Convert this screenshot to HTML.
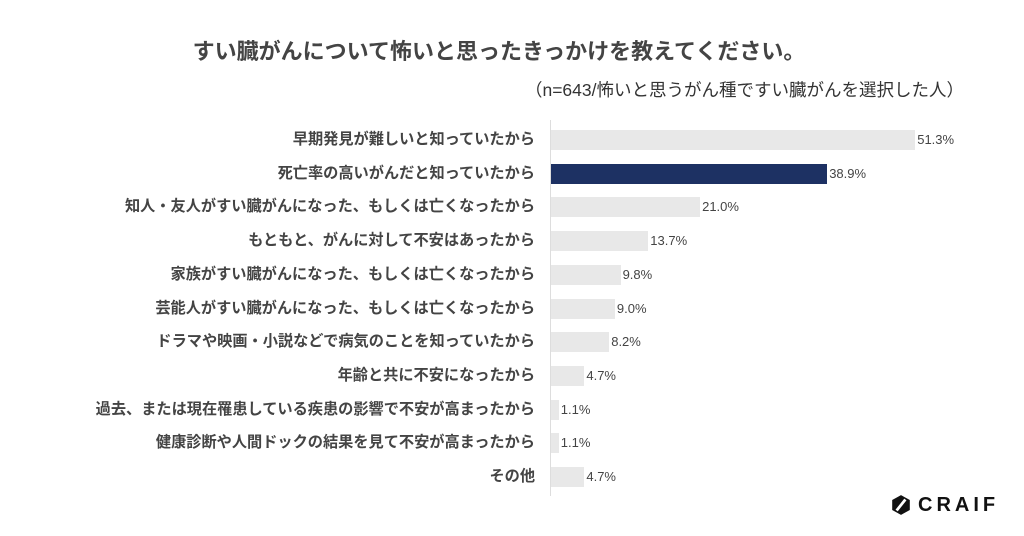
<!DOCTYPE html>
<html><head><meta charset="utf-8"><style>
body{margin:0;width:1024px;height:536px;background:#fff;font-family:"Liberation Sans","Noto Sans CJK JP",sans-serif;position:relative;overflow:hidden;color:#333}
.t{position:absolute;left:0;width:998px;text-align:center;top:37px;font-size:22px;font-weight:bold;color:#444;line-height:30px}
.s{position:absolute;right:60px;top:78px;font-size:17.5px;color:#333;line-height:24px}
.l{position:absolute;right:489px;font-size:15.2px;font-weight:bold;color:#444;white-space:nowrap;line-height:20px}
.b{position:absolute;left:551px;height:20px;background:#e8e8e8}
.v{position:absolute;font-size:13px;color:#444;line-height:20px}
.ax{position:absolute;left:550px;top:120px;width:1px;height:376px;background:#ddd}
</style></head><body>
<div class="t">すい臓がんについて怖いと思ったきっかけを教えてください。</div>
<div class="s">（n=643/怖いと思うがん種ですい臓がんを選択した人）</div>
<div class="ax"></div>
<div id="c"></div>
<svg style="position:absolute;left:891px;top:494px" width="20" height="22" viewBox="0 0 18 20"><polygon points="9,1 17,5.5 17,14.5 9,19 1,14.5 1,5.5" fill="#111"/><line x1="5" y1="15" x2="13" y2="5" stroke="#fff" stroke-width="2.5"/></svg>
<div style="position:absolute;left:918px;top:494px;font-size:20px;font-weight:bold;letter-spacing:4px;color:#111;line-height:22px">CRAIF</div>
<script>
var d=[["早期発見が難しいと知っていたから",51.3],["死亡率の高いがんだと知っていたから",38.9],["知人・友人がすい臓がんになった、もしくは亡くなったから",21.0],["もともと、がんに対して不安はあったから",13.7],["家族がすい臓がんになった、もしくは亡くなったから",9.8],["芸能人がすい臓がんになった、もしくは亡くなったから",9.0],["ドラマや映画・小説などで病気のことを知っていたから",8.2],["年齢と共に不安になったから",4.7],["過去、または現在罹患している疾患の影響で不安が高まったから",1.1],["健康診断や人間ドックの結果を見て不安が高まったから",1.1],["その他",4.7]];
var h="";d.forEach(function(r,i){var y=130+i*33.7,w=r[1]*7.1;
h+='<div class="l" style="top:'+y+'px">'+r[0]+'</div><div class="b" style="top:'+y+'px;width:'+w+'px'+(i==1?';background:#1d3163':'')+'"></div><div class="v" style="top:'+y+'px;left:'+(553+w)+'px">'+r[1].toFixed(1)+'%</div>';});
document.getElementById("c").innerHTML=h;
</script>
</body></html>
